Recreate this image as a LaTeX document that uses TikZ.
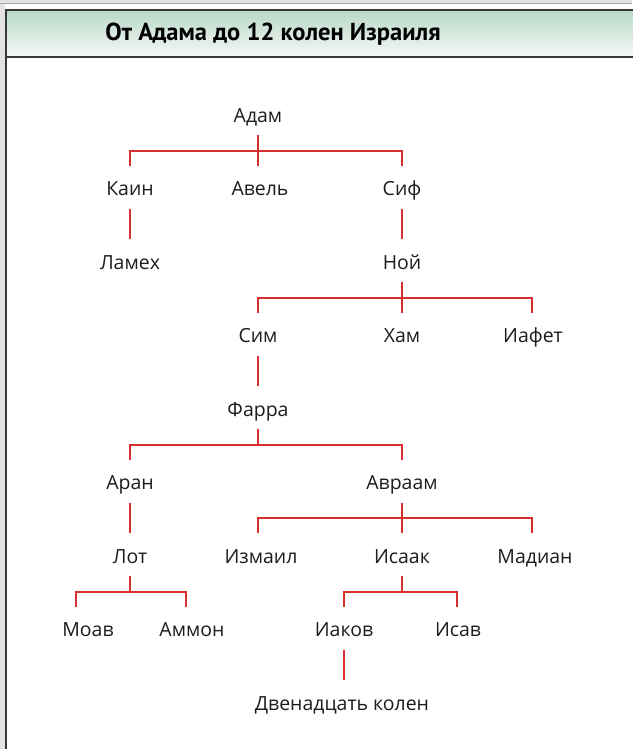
\documentclass[tikz,border=0pt]{standalone}
\usepackage{fontspec}
\setmainfont{Open Sans}
\newfontfamily\titlefont{PT Sans}
\definecolor{linkred}{HTML}{D8302F}
\definecolor{framecol}{HTML}{383838}
\definecolor{ink}{HTML}{1C1C1C}
\definecolor{bandtop}{HTML}{B8D9C7}
\definecolor{bandbot}{HTML}{F7F7F7}
\definecolor{pagegray}{HTML}{E3E3E3}
\begin{document}
\begin{tikzpicture}[x=0.75pt,y=-0.75pt,
  person/.style={font=\fontsize{14.6pt}{18pt}\selectfont, text=ink, inner sep=0pt,
    minimum height=31.875pt, text height=13.1pt, text depth=0pt},
  link/.style={draw=linkred, line width=1.2pt},
  framel/.style={draw=framecol, line width=1.5pt}]
\useasboundingbox (0,0) rectangle (632,749);
\fill[white] (0,0) rectangle (632,749);
\fill[pagegray] (0,0) rectangle (5,749);
\fill[pagegray] (0,0) rectangle (632,3);
\draw[gray!70, line width=0.6pt] (0,3) -- (632,3);
\shade[top color=bandtop, bottom color=bandbot] (5.5,10.5) rectangle (640,57);
\draw[framel] (640,10.5) -- (5.5,10.5) -- (5.5,760);
\draw[framel] (5.5,57) -- (640,57);

\node[font=\titlefont\bfseries\fontsize{18.4pt}{21pt}\selectfont, text=black, inner sep=0pt,
  text height=12.9pt, text depth=0pt] (title) at (273,31.7) {От Адама до 12 колен Израиля};

% level 1
\node[person] (adam) at (258,113.75) {Адам};
% level 2
\node[person] (kain) at (130,187.25) {Каин};
\node[person] (avel) at (260,187.25) {Авель};
\node[person] (sif) at (402,187.25) {Сиф};
% level 3
\node[person] (lamekh) at (130,260.75) {Ламех};
\node[person] (noi) at (402,260.75) {Ной};
% level 4
\node[person] (sim) at (258,334.25) {Сим};
\node[person] (ham) at (402,334.25) {Хам};
\node[person] (iafet) at (533,334.25) {Иафет};
% level 5
\node[person] (farra) at (258,407.75) {Фарра};
% level 6
\node[person] (aran) at (130,481.25) {Аран};
\node[person] (avraam) at (402,481.25) {Авраам};
% level 7
\node[person] (lot) at (130,554.75) {Лот};
\node[person] (izmail) at (261,554.75) {Измаил};
\node[person] (isaak) at (402,554.75) {Исаак};
\node[person] (madian) at (535,554.75) {Мадиан};
% level 8
\node[person] (moav) at (88,628.25) {Моав};
\node[person] (ammon) at (192,628.25) {Аммон};
\node[person] (iakov) at (344,628.25) {Иаков};
\node[person] (isav) at (458,628.25) {Исав};
% level 9
\node[person] (tribes) at (342,701.75) {Двенадцать колен};

% connectors
\draw[link] (adam.south) -- (avel.north -| adam.south);
\draw[link] (adam.south) ++(0,15.5) -| (kain.north);
\draw[link] (adam.south) ++(0,15.5) -| (sif.north);
\draw[link] (kain.south) -- (lamekh.north);
\draw[link] (sif.south) -- (noi.north);
\draw[link] (noi.south) -- (ham.north);
\draw[link] (noi.south) ++(0,15.5) -| (sim.north);
\draw[link] (noi.south) ++(0,15.5) -| ([xshift=-0.75pt]iafet.north);
\draw[link] (sim.south) -- (farra.north);
\draw[link] (farra.south) -- ++(0,15.5) -| (aran.north);
\draw[link] (farra.south) ++(0,15.5) -| (avraam.north);
\draw[link] (aran.south) -- (lot.north);
\draw[link] (avraam.south) -- (isaak.north);
\draw[link] (avraam.south) ++(0,15.5) -| ([xshift=-2.25pt]izmail.north);
\draw[link] (avraam.south) ++(0,15.5) -| ([xshift=-2.25pt]madian.north);
\draw[link] (lot.south) -- ++(0,15.5) -| ([xshift=-9pt]moav.north);
\draw[link] (lot.south) ++(0,15.5) -| ([xshift=-4.5pt]ammon.north);
\draw[link] (isaak.south) -- ++(0,15.5) -| (iakov.north);
\draw[link] (isaak.south) ++(0,15.5) -| ([xshift=-0.75pt]isav.north);
\draw[link] (iakov.south) -- (tribes.north -| iakov.south);
\end{tikzpicture}
\end{document}
